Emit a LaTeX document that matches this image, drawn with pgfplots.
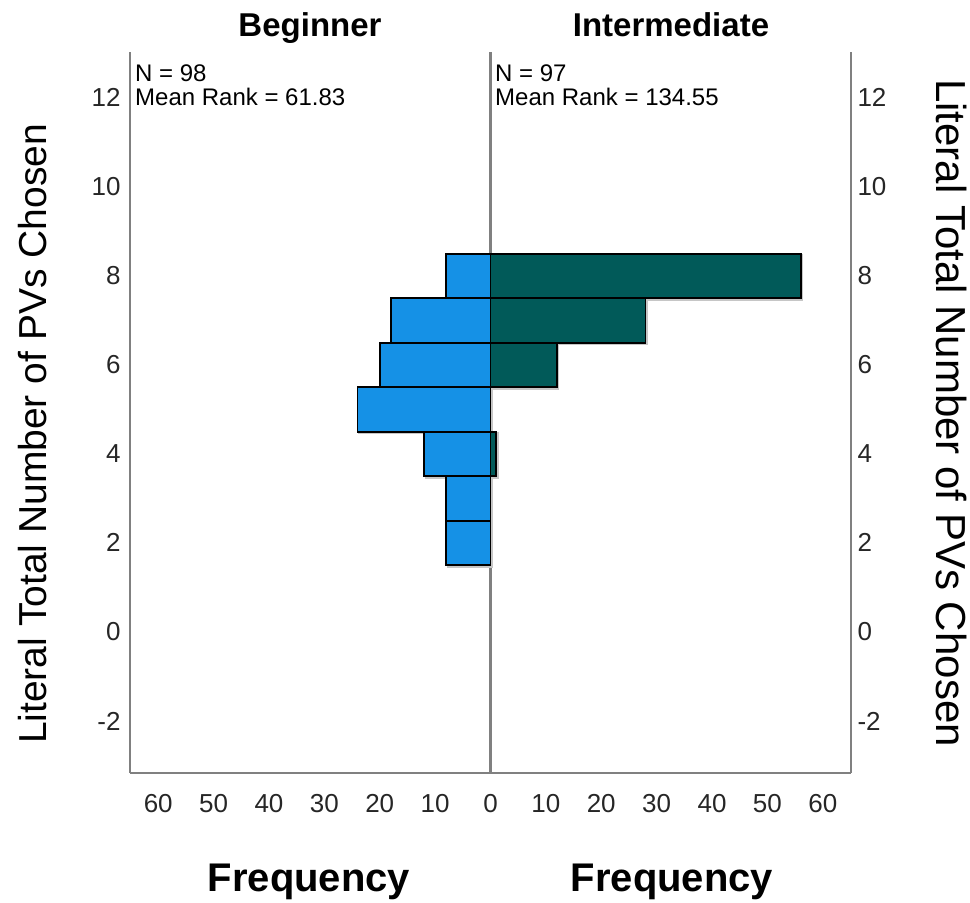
\documentclass[border=0pt]{standalone}
\usepackage{fontspec}
\setmainfont{Liberation Sans}
\usepackage{pgfplots}
\pgfplotsset{compat=1.18}
\definecolor{begblue}{RGB}{21,145,230}
\definecolor{intteal}{RGB}{1,90,89}
\definecolor{axgray}{RGB}{128,128,128}

\begin{document}
\begin{tikzpicture}[x=1pt,y=1pt]
\useasboundingbox (0,0) rectangle (970,903);
\begin{axis}[
  at={(130pt,130pt)}, anchor=south west,
  width=721pt, height=721pt, scale only axis,
  xmin=-65.1, xmax=65.1, ymin=-3.17, ymax=13.03,
  axis x line*=bottom, axis y line*=left,
  axis line style={draw=axgray, line width=2.2pt},
  xtick={-60,-50,...,60},
  xticklabels={60,50,40,30,20,10,0,10,20,30,40,50,60},
  ytick={-2,0,...,12},
  major tick length=0pt,
  tick label style={font=\fontsize{26}{26}\selectfont, text=black!85},
  /pgf/number format/assume math mode=true,
  xticklabel style={yshift=-18pt},
  yticklabel style={xshift=-6pt},
  xbar, bar width=1, bar shift=0pt,
  clip=false,
]
\draw[axgray, line width=2.2pt] (axis cs:0,-3.17) -- (axis cs:0,13.03);
% shadows
\addplot[draw=gray!45, line width=2pt, fill=none, xshift=1.5pt, yshift=-1.5pt]
  coordinates {(-8,2) (-8,3) (-12,4) (-24,5) (-20,6) (-18,7) (-8,8)};
\addplot[draw=gray!45, line width=2pt, fill=none, xshift=1.5pt, yshift=-1.5pt]
  coordinates {(1,4) (12,6) (28,7) (56,8)};
% Beginner (left)
\addplot[draw=black, line width=1.8pt, fill=begblue]
  coordinates {(-8,2) (-8,3) (-12,4) (-24,5) (-20,6) (-18,7) (-8,8)};
% Intermediate (right)
\addplot[draw=black, line width=1.8pt, fill=intteal]
  coordinates {(1,4) (12,6) (28,7) (56,8)};
\end{axis}
\begin{axis}[
  at={(130pt,130pt)}, anchor=south west,
  width=721pt, height=721pt, scale only axis,
  xmin=-65.1, xmax=65.1, ymin=-3.17, ymax=13.03,
  axis x line=none, axis y line*=right,
  axis line style={draw=axgray, line width=2.2pt},
  ytick={-2,0,...,12},
  major tick length=0pt,
  tick label style={font=\fontsize{26}{26}\selectfont, text=black!85},
  /pgf/number format/assume math mode=true,
  yticklabel style={xshift=3pt},
]
\addplot[draw=none, forget plot] coordinates {(0,0)};
\end{axis}
\node[font=\fontsize{33}{33}\selectfont\bfseries, anchor=base] at (310,866) {Beginner};
\node[font=\fontsize{33}{33}\selectfont\bfseries, anchor=base] at (671,866) {Intermediate};
\node[font=\fontsize{40}{40}\selectfont\bfseries, anchor=base] at (309,11) {Frequency};
\node[font=\fontsize{40}{40}\selectfont\bfseries, anchor=base] at (672,11) {Frequency};
\node[font=\fontsize{39}{39}\selectfont, rotate=90, anchor=center] at (33,469) {Literal Total Number of PVs Chosen};
\node[font=\fontsize{42}{42}\selectfont, rotate=-90, anchor=center] at (952,490) {Literal Total Number of PVs Chosen};
\node[font=\fontsize{24}{24}\selectfont, anchor=base west, inner sep=0pt] at (135,821) {N = 98};
\node[font=\fontsize{24}{24}\selectfont, anchor=base west, inner sep=0pt] at (135,797) {Mean Rank = 61.83};
\node[font=\fontsize{24}{24}\selectfont, anchor=base west, inner sep=0pt] at (495,821) {N = 97};
\node[font=\fontsize{24}{24}\selectfont, anchor=base west, inner sep=0pt] at (495,797) {Mean Rank = 134.55};
\end{tikzpicture}
\end{document}
